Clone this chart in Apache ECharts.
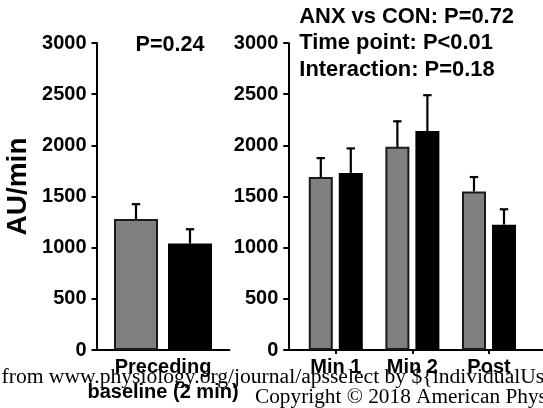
<!DOCTYPE html>
<html>
<head>
<meta charset="utf-8">
<script src="https://cdn.jsdelivr.net/npm/echarts@6/dist/echarts.min.js"></script>
<style>
  html, body { margin: 0; padding: 0; background: #fff; }
  #chart { width: 543px; height: 408px; }
</style>
</head>
<body>
<div id="chart"></div>
<script>
// Preceding baseline (left panel), mean and SEM
const baselineLabel = ['Preceding\nbaseline (2 min)'];
const baselineCON = [1280];
const baselineCONErr = [145];
const baselineANX = [1040];
const baselineANXErr = [140];

// Time points (right panel), mean and SEM
const timeLabels = ['Min 1', 'Min 2', 'Post'];
const timePositions = [1, 2, 3];
const timeCON = [1690, 1985, 1550];
const timeCONErr = [185, 250, 140];
const timeANX = [1730, 2140, 1225];
const timeANXErr = [240, 350, 150];

// Y scale
const yMin = 0;
const yMax = 3000;
const yStep = 500;

// Statistics text
const baselineStat = 'P=0.24';
const timeStats = ['ANX vs CON: P=0.72', 'Time point: P<0.01', 'Interaction: P=0.18'];

// Source footer
const footerLines = [
  'from www.physiology.org/journal/apsselect by ${individualUser.givenNames}',
  'Copyright \u00A9 2018 American Physiological Society.'
];

const SANS = '"Liberation Sans", Arial, sans-serif';
const SERIF = '"Liberation Serif", "Times New Roman", serif';
const GRAY = '#808080';
const EDGE = '#1a1a1a';

const chart = echarts.init(document.getElementById('chart'), null, { renderer: 'canvas' });

function yAxisFor(gridIndex) {
  return {
    type: 'value', gridIndex, min: yMin, max: yMax, interval: yStep,
    axisLine: { show: true, lineStyle: { color: '#000', width: 2 } },
    axisTick: { show: true, length: 5, lineStyle: { color: '#000', width: 2 } },
    axisLabel: {
      color: '#000', fontFamily: SANS, fontWeight: 'bold', fontSize: 20, margin: 10,
      formatter: (v) => String(v)
    },
    splitLine: { show: false }
  };
}

// Vertical error whisker (upward only) with a short cap
function errorSeries(xAxisIndex, yAxisIndex, xs, vals, errs, shiftPx) {
  return {
    type: 'custom', xAxisIndex, yAxisIndex, z: 5, silent: true,
    data: vals.map((v, i) => [xs[i], v, v + errs[i]]),
    encode: { x: 0, y: 1 },
    renderItem(params, api) {
      const base = api.coord([api.value(0), api.value(1)]);
      const top = api.coord([api.value(0), api.value(2)]);
      const x = base[0] + shiftPx;
      const cap = 4.2;
      const style = { stroke: '#000', lineWidth: 2.2 };
      return {
        type: 'group',
        children: [
          { type: 'line', shape: { x1: x, y1: base[1], x2: x, y2: top[1] }, style },
          { type: 'line', shape: { x1: x - cap, y1: top[1], x2: x + cap, y2: top[1] }, style }
        ]
      };
    }
  };
}

const leftBarWidth = 44, leftGap = 10;
const rightBarWidth = 24, rightGap = 6;
const leftShift = (leftBarWidth + leftGap) / 2;
const rightShift = (rightBarWidth + rightGap) / 2;

const option = {
  backgroundColor: '#fff',
  animation: false,
  grid: [
    { left: 96.5, top: 43, width: 133, height: 307, containLabel: false },
    { left: 288.3, top: 43, width: 270, height: 307, containLabel: false }
  ],
  xAxis: [
    {
      type: 'category', gridIndex: 0, data: baselineLabel,
      axisLine: { show: true, lineStyle: { color: '#000', width: 2 } },
      axisTick: { show: false },
      axisLabel: { color: '#000', fontFamily: SANS, fontWeight: 'bold', fontSize: 20, lineHeight: 25, margin: 5 }
    },
    {
      type: 'value', gridIndex: 1, min: 0.38, max: 0.38 + 270 / 81.2,
      axisLine: { show: true, onZero: false, lineStyle: { color: '#000', width: 2 } },
      axisTick: { show: true, length: 4, customValues: timePositions, lineStyle: { color: '#000', width: 2 } },
      axisLabel: {
        color: '#000', fontFamily: SANS, fontWeight: 'bold', fontSize: 20, margin: 7,
        customValues: timePositions,
        formatter: (v) => timeLabels[Math.round(v) - 1] || ''
      },
      splitLine: { show: false }
    }
  ],
  yAxis: [yAxisFor(0), yAxisFor(1)],
  series: [
    {
      name: 'CON', type: 'bar', xAxisIndex: 0, yAxisIndex: 0,
      data: baselineCON, barWidth: leftBarWidth, barGap: (leftGap / leftBarWidth * 100) + '%',
      itemStyle: { color: GRAY, borderColor: EDGE, borderWidth: 2 }
    },
    {
      name: 'ANX', type: 'bar', xAxisIndex: 0, yAxisIndex: 0,
      data: baselineANX, barWidth: leftBarWidth,
      itemStyle: { color: '#000', borderColor: '#000', borderWidth: 2 }
    },
    errorSeries(0, 0, [0], baselineCON, baselineCONErr, -leftShift),
    errorSeries(0, 0, [0], baselineANX, baselineANXErr, leftShift),
    {
      name: 'CON', type: 'bar', xAxisIndex: 1, yAxisIndex: 1,
      data: timeCON.map((v, i) => [timePositions[i], v]),
      barWidth: rightBarWidth, barGap: (rightGap / rightBarWidth * 100) + '%',
      itemStyle: { color: GRAY, borderColor: EDGE, borderWidth: 2 }
    },
    {
      name: 'ANX', type: 'bar', xAxisIndex: 1, yAxisIndex: 1,
      data: timeANX.map((v, i) => [timePositions[i], v]),
      barWidth: rightBarWidth,
      itemStyle: { color: '#000', borderColor: '#000', borderWidth: 2 }
    },
    errorSeries(1, 1, timePositions, timeCON, timeCONErr, -rightShift),
    errorSeries(1, 1, timePositions, timeANX, timeANXErr, rightShift)
  ],
  graphic: [
    {
      type: 'text', x: 18.3, y: 186.5, rotation: Math.PI / 2,
      style: { text: 'AU/min', fill: '#000', fontFamily: SANS, fontWeight: 'bold', fontSize: 28, align: 'center', verticalAlign: 'middle' }
    },
    {
      type: 'text', x: 135.5, y: 45,
      style: { text: baselineStat, fill: '#000', fontFamily: SANS, fontWeight: 'bold', fontSize: 21.6, align: 'left', verticalAlign: 'middle' }
    },
    ...timeStats.map((t, i) => ({
      type: 'text', x: 299.3, y: 17 + i * 26.4,
      style: { text: t, fill: '#000', fontFamily: SANS, fontWeight: 'bold', fontSize: 21.9, align: 'left', verticalAlign: 'middle' }
    })),
    {
      type: 'text', x: 1.5, y: 377.5, z: 100,
      style: { text: footerLines[0], fill: '#000', fontFamily: SERIF, fontSize: 21.6, align: 'left', verticalAlign: 'middle' }
    },
    {
      type: 'text', x: 255, y: 397, z: 100,
      style: { text: footerLines[1], fill: '#000', fontFamily: SERIF, fontSize: 21.3, align: 'left', verticalAlign: 'middle' }
    }
  ]
};

chart.setOption(option);
</script>
</body>
</html>
